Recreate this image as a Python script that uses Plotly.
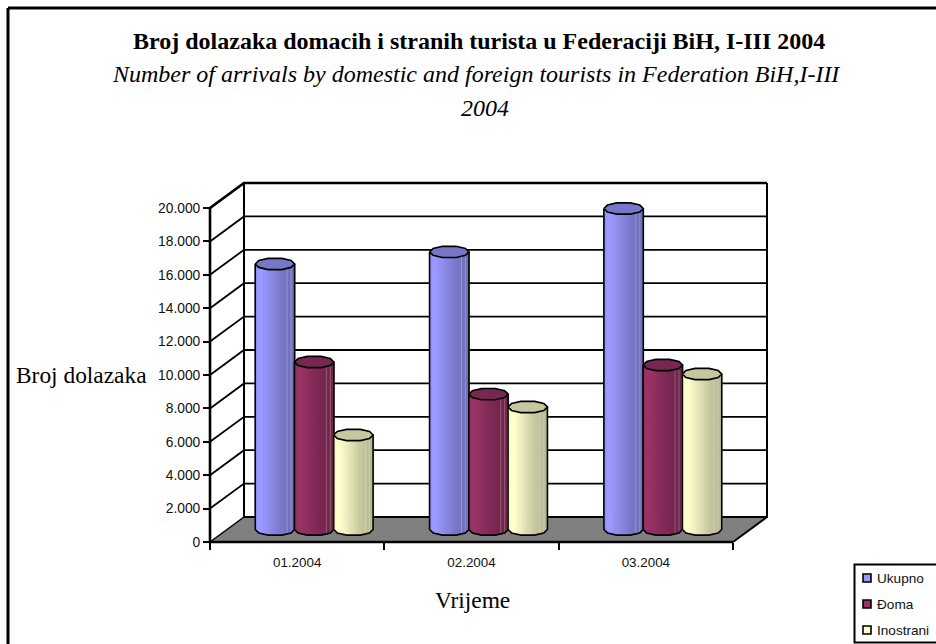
import math
import numpy as np
import plotly.graph_objects as go

# ---- data ----
categories = ["01.2004", "02.2004", "03.2004"]
ukupno = [15900, 16620, 19220]
domaci = [10030, 8110, 9850]
inostrani = [5660, 7335, 9310]
y_ticks = [0, 2000, 4000, 6000, 8000, 10000, 12000, 14000, 16000, 18000, 20000]
y_tick_labels = ["0", "2.000", "4.000", "6.000", "8.000", "10.000", "12.000",
                 "14.000", "16.000", "18.000", "20.000"]
series_names = ["Ukupno", "Đoma", "Inostrani"]
series_colors = ["#9999FF", "#993366", "#FFFFCC"]
series_values = [ukupno, domaci, inostrani]

# ---- page / projection ----
W, H = 936, 644
X0_PX, Y0_PX = 210.0, 542.0          # where the front-left origin sits
PX_PER_CAT = 174.33
PX_PER_VAL = 334.0 / 20000.0
DEPTH_X = 34.0 / PX_PER_CAT           # oblique depth in category units
DEPTH_Y = 25.0 / PX_PER_VAL           # oblique depth in value units
N = len(categories)
VMAX = y_ticks[-1]
OFFSETS = [-0.225, 0.0, 0.225]
RX = 0.113
RY = 6.0 / PX_PER_VAL
SHADE = [0.96, 1.0, 1.0, 0.97, 0.94, 0.91, 0.88, 0.85, 0.82, 0.79, 0.77, 0.75, 0.74, 0.73]
RING_U = [-1.0, -0.82, -0.35, 0.35, 0.82, 1.0]   # coarse polygonal cylinder outline

x_range = [-X0_PX / PX_PER_CAT, (W - X0_PX) / PX_PER_CAT]
y_range = [-(H - Y0_PX) / PX_PER_VAL, Y0_PX / PX_PER_VAL]


def shade(hex_color, f):
    r, g, b = (int(hex_color[i:i + 2], 16) for i in (1, 3, 5))
    return f"rgb({round(r * f)},{round(g * f)},{round(b * f)})"


RING_H = [math.sqrt(max(0.0, 1 - u * u)) for u in RING_U]


def half(u):
    return float(np.interp(u, RING_U, RING_H))


fig = go.Figure()


def poly(xs, ys, fill=None, line=None, width=0):
    fig.add_trace(go.Scatter(
        x=xs, y=ys, mode="lines", showlegend=False, hoverinfo="skip",
        fill="toself" if fill else None, fillcolor=fill,
        line=dict(color=line or "rgba(0,0,0,0)", width=width),
    ))


# floor
poly([0, N, N + DEPTH_X, DEPTH_X, 0], [0, 0, DEPTH_Y, DEPTH_Y, 0], fill="#808080")

# gridlines on side wall and back wall
gx, gy = [], []
for v in y_ticks[1:]:
    gx += [0, DEPTH_X, N + DEPTH_X, None]
    gy += [v, v + DEPTH_Y, v + DEPTH_Y, None]
poly(gx, gy, line="#000000", width=1.8)

# wall frame and floor edges
poly([DEPTH_X, DEPTH_X, N + DEPTH_X, N + DEPTH_X, None, N + DEPTH_X, N],
     [VMAX + DEPTH_Y, DEPTH_Y, DEPTH_Y, VMAX + DEPTH_Y, None, DEPTH_Y, 0],
     line="#000000", width=2)
poly([0, DEPTH_X, N + DEPTH_X], [VMAX, VMAX + DEPTH_Y, VMAX + DEPTH_Y], line="#000000", width=2.6)
poly([0, 0, N], [VMAX, 0, 0], line="#000000", width=2.6)
poly([0, DEPTH_X], [0, DEPTH_Y], line="#000000", width=1.5)

# cylinders
n_strips = len(SHADE)
u_grid = [-1 + 2 * k / n_strips for k in range(n_strips + 1)]
for s, values in enumerate(series_values):
    centers = [i + 0.5 + OFFSETS[s] + DEPTH_X / 2 for i in range(N)]
    base = DEPTH_Y / 2
    for k in range(n_strips):
        u0, u1 = u_grid[k], u_grid[k + 1]
        xs, ys = [], []
        for c, v in zip(centers, values):
            top = base + v
            xs += [c + RX * u0, c + RX * u1, c + RX * u1, c + RX * u0, c + RX * u0, None]
            ys += [base - RY * half(u0), base - RY * half(u1), top, top, base - RY * half(u0), None]
        col = shade(series_colors[s], SHADE[k])
        poly(xs, ys, fill=col, line=col, width=1.2)
    # pale seams near the shaded side
    sx, sy = [], []
    for c, v in zip(centers, values):
        for u in (0.62, 0.82):
            sx += [c + RX * u, c + RX * u, None]
            sy += [base - RY * half(u), base + v - RY * half(u), None]
    poly(sx, sy, line="rgba(255,255,255,0.25)", width=1)
    # silhouette and cap
    ox, oy, cx, cy = [], [], [], []
    for c, v in zip(centers, values):
        top = base + v
        ox += [c - RX] + [c + RX * u for u in RING_U] + [c + RX, None]
        oy += [top] + [base - RY * half(u) for u in RING_U] + [top, None]
        ring = [(u, 1) for u in RING_U] + [(u, -1) for u in reversed(RING_U)]
        cx += [c + RX * u for u, _ in ring] + [None]
        cy += [top + sgn * RY * half(u) for u, sgn in ring] + [None]
    poly(ox, oy, line="#000000", width=1.6)
    poly(cx, cy, fill=shade(series_colors[s], 0.78), line="#000000", width=1.6)

# ---- axes ----
sans = "Liberation Sans, Arial, sans-serif"
fig.update_xaxes(
    domain=[0, 1], range=x_range, anchor="free", position=1 - Y0_PX / H,
    showgrid=False, zeroline=False, showline=False,
    tickmode="array", tickvals=[i + 0.5 for i in range(N)], ticktext=categories,
    ticks="", tickfont=dict(family=sans, size=13.4, color="#111111"), ticklabelstandoff=11,
    minor=dict(tickmode="array", tickvals=list(range(N + 1)), ticks="outside",
               ticklen=7, tickwidth=1.5, tickcolor="#000000", showgrid=False),
)
fig.update_yaxes(
    domain=[0, 1], range=y_range, anchor="free", position=X0_PX / W,
    showgrid=False, zeroline=False, showline=False,
    tickmode="array", tickvals=y_ticks, ticktext=y_tick_labels,
    ticks="outside", ticklen=7, tickwidth=1.5, tickcolor="#000000",
    tickfont=dict(family=sans, size=13.8, color="#111111"),
)

# ---- text ----
serif = "Liberation Serif, Times New Roman, serif"
def label(text, px, py, size, anchor="center"):
    fig.add_annotation(text=text, x=px / W, y=1 - py / H, xref="paper", yref="paper",
                       showarrow=False, xanchor=anchor, yanchor="middle",
                       font=dict(family=serif, size=size, color="#000000"))

label("<b>Broj dolazaka domacih i stranih turista u Federaciji BiH, I-III 2004</b>", 479, 41, 24)
label("<i>Number of arrivals by domestic and foreign tourists in Federation BiH,I-III</i>", 476, 74, 24)
label("<i>2004</i>", 485, 108, 24)
label("Broj dolazaka", 81, 375, 23.4)
label("Vrijeme", 472, 600, 23.4)

# ---- frame + legend box ----
shapes = [
    dict(type="line", xref="paper", yref="paper", x0=8 / W, x1=1, y0=1 - 8 / H, y1=1 - 8 / H,
         line=dict(color="#000000", width=3)),
    dict(type="line", xref="paper", yref="paper", x0=8 / W, x1=8 / W, y0=0, y1=1 - 8 / H,
         line=dict(color="#000000", width=3)),
    dict(type="rect", xref="paper", yref="paper", x0=854.5 / W, x1=1.01,
         y0=1 - 642.5 / H, y1=1 - 564.5 / H, line=dict(color="#000000", width=2),
         fillcolor="#FFFFFF"),
]
for i, (name, col) in enumerate(zip(series_names, series_colors)):
    cy = 578 + i * 26
    shapes.append(dict(type="rect", xref="paper", yref="paper",
                       x0=863 / W, x1=871 / W, y0=1 - (cy + 4) / H, y1=1 - (cy - 4) / H,
                       fillcolor=col, line=dict(color="#000000", width=1.6)))
    fig.add_annotation(text=name, x=874.5 / W, y=1 - cy / H, xref="paper", yref="paper",
                       showarrow=False, xanchor="left", yanchor="middle",
                       font=dict(family=sans, size=13.6, color="#111111"))

fig.update_layout(
    width=W, height=H, autosize=False, showlegend=False,
    margin=dict(l=0, r=0, t=0, b=0, autoexpand=False),
    paper_bgcolor="#FFFFFF", plot_bgcolor="#FFFFFF", shapes=shapes,
)
fig.write_html("out.html", config={"displayModeBar": False},
               post_script="document.body.style.margin='0';document.documentElement.style.overflow='hidden';")
